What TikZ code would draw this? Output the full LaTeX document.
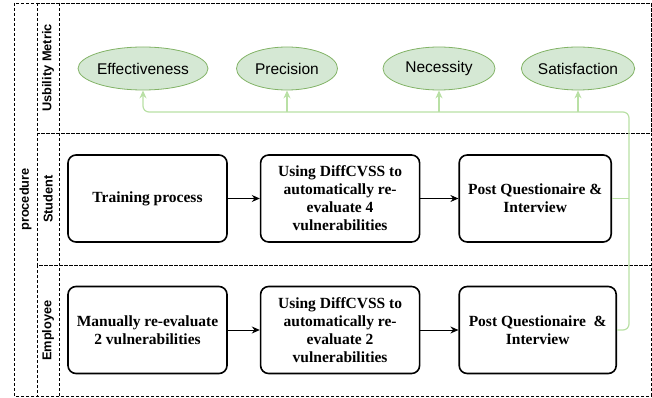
\documentclass[tikz,border=0pt]{standalone}
\usepackage{fontspec}
\setmainfont{Liberation Serif}
\setsansfont{Liberation Sans}
\usetikzlibrary{arrows.meta,positioning,shapes.geometric}
\definecolor{metricfill}{HTML}{D5E8D4}
\definecolor{metricdraw}{HTML}{82B366}
\definecolor{linkgreen}{HTML}{B9E0A5}
\tikzset{
  lane/.style={draw,dash pattern=on 3pt off 2pt,line width=0.9pt},
  lanelabel/.style={rotate=90,font=\sffamily\bfseries\fontsize{12.8}{14}\selectfont},
  metric/.style={ellipse,draw=metricdraw,fill=metricfill,line width=0.8pt,minimum width=101pt,minimum height=43pt,inner sep=0pt,font=\sffamily\fontsize{15.5}{18}\selectfont},
  stepbox/.style={draw,rounded corners=8pt,line width=1.6pt,minimum width=159pt,minimum height=87pt,inner sep=0pt,align=center,font=\bfseries\fontsize{15.5}{18}\selectfont},
  flow/.style={-{Stealth[length=8pt,width=7pt]},line width=1pt},
  feed/.style={linkgreen,line width=1.2pt,rounded corners=6pt},
  feedtip/.style={-{Stealth[length=8pt,width=7pt]}},
}
\begin{document}
\begin{tikzpicture}[x=1pt,y=-1pt]
	\useasboundingbox (0,0) rectangle (652,398);
	% Lanes
	\draw [lane] (14,3) rectangle (651,396);
	\draw [lane] (37,3) rectangle (651,133);
	\draw [lane] (37,133) rectangle (651,265);
	\draw [lane] (37,265) rectangle (651,396);
	\draw [lane] (59,3) -- (59,396);
	\node [lanelabel] (lblProc) at (25.5,199.5) {procedure};
	\node [lanelabel] (lblMetric) at (48,68) {Usbility Metric};
	\node [lanelabel] (lblStudent) at (48,199) {Student};
	\node [lanelabel] (lblEmployee) at (48,330.5) {Employee};
	% Metrics
	\node [metric] (effect) at (143,68.5) {Effectiveness};
	\node [metric] (precis) at (287,68.5) {Precision};
	\node [metric, minimum width=112pt] (necess) at (439,68.5) {Necessity};
	\node [metric] (satisf) at (578,68.5) {Satisfaction};
	% Student
	\node [stepbox] (stTrain) at (147.5,198.5) {Training process};
	\node [stepbox, right=32pt of stTrain] (stAuto) {Using DiffCVSS to\\automatically re-\\evaluate 4\\vulnerabilities};
	\node [stepbox, minimum width=152pt, right=38pt of stAuto] (stPost) {Post Questionaire \&\\Interview};
	\draw [flow] (stTrain) -- (stAuto);
	\draw [flow] (stAuto) -- (stPost);
	% Employee
	\node [stepbox] (emManual) at (147.5,330) {Manually re-evaluate\\2 vulnerabilities};
	\node [stepbox, right=32pt of emManual] (emAuto) {Using DiffCVSS to\\automatically re-\\evaluate 2\\vulnerabilities};
	\node [stepbox, minimum width=157pt, right=38pt of emAuto] (emPost) {Post Questionaire\ \ \&\\Interview};
	\draw [flow] (emManual) -- (emAuto);
	\draw [flow] (emAuto) -- (emPost);
	% Feedback to metrics
	\coordinate (bus) at (629,112);
	\draw [feed, feedtip] (emPost.east) -| (bus) -| (effect.south);
	\draw [feed] (stPost.east) -- (stPost.east -| bus);
	\draw [feed, feedtip] (precis.south |- bus) -- (precis.south);
	\draw [feed, feedtip] (necess.south |- bus) -- (necess.south);
	\draw [feed, feedtip] (satisf.south |- bus) -- (satisf.south);
\end{tikzpicture}
\end{document}
